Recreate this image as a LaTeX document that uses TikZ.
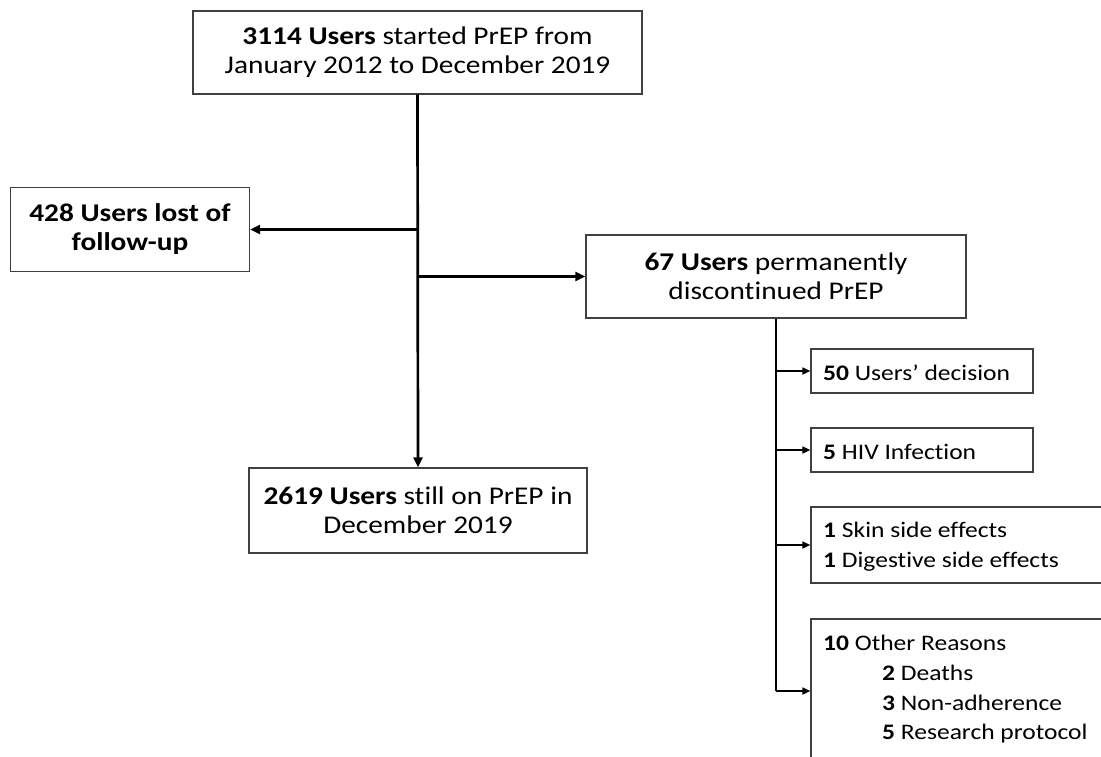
\documentclass[tikz,border=0pt]{standalone}
\usepackage{fontspec}
\setmainfont{Carlito}[FakeStretch=1.15, Ligatures=NoCommon]
\usetikzlibrary{arrows.meta}
\definecolor{boxline}{HTML}{404040}
\tikzset{
  box/.style={draw=boxline, line width=1.2pt, inner sep=0pt},
  mainfont/.style={font=\fontsize{25.5}{29}\selectfont, align=center},
  boldfont/.style={font=\fontsize{25.5}{29}\selectfont\bfseries, align=center},
  subfont/.style={font=\fontsize{22.2}{30}\selectfont, anchor=base west, inner sep=0pt},
  mainline/.style={line width=2.7pt, -{Triangle[length=10pt,width=9pt]}},
  subtrunk/.style={line width=1.6pt},
  subline/.style={line width=1.6pt, -{Triangle[length=8pt,width=7pt]}},
}
\begin{document}
\begin{tikzpicture}[x=1pt,y=-1pt]
\useasboundingbox (0,0) rectangle (1101,756);
\fill[white] (0,0) rectangle (1101,756);
\clip (0,0) rectangle (1101,756);

% main boxes
\node[box, mainfont, minimum width=449pt, minimum height=83pt] (top) at (417.5,52.5)
  {\textbf{3114 Users} started PrEP from\\January 2012 to December 2019};
\node[box, boldfont, minimum width=239pt, minimum height=84pt] (lost) at (130,229.5)
  {428 Users lost of\\follow-up};
\node[box, mainfont, minimum width=380pt, minimum height=83pt] (disc) at (776,276.5)
  {\textbf{67 Users} permanently\\discontinued PrEP};
\node[box, mainfont, minimum width=338pt, minimum height=85pt] (still) at (418,510.5)
  {\textbf{2619 Users} still on PrEP in\\December 2019};

% sub boxes
\node[box, minimum width=222pt, minimum height=44pt] (dec) at (922,371) {};
\node[box, minimum width=222pt, minimum height=44pt] (hiv) at (922,450) {};
\node[box, minimum width=320pt, minimum height=76pt] (side) at (971,545) {};
\node[box, minimum width=320pt, minimum height=144pt] (other) at (971,691) {};

% sub box texts
\node[subfont] (dect) at (823,380) {\textbf{50} Users’ decision};
\node[subfont] (hivt) at (823,459) {\textbf{5} HIV Infection};
\node[subfont] (skint) at (823,537) {\textbf{1} Skin side effects};
\node[subfont] (digt) at (823,567) {\textbf{1} Digestive side effects};
\node[subfont] (othert) at (823,650) {\textbf{10} Other Reasons};
\node[subfont] (deatht) at (882,680) {\textbf{2} Deaths};
\node[subfont] (nonadt) at (882,710) {\textbf{3} Non-adherence};
\node[subfont] (resprt) at (882,739) {\textbf{5} Research protocol};

% main connectors
\coordinate (jl) at (top.south |- lost.east);
\coordinate (jr) at (top.south |- disc.west);
\draw[mainline] (top.south) -- (still.north);
\draw[mainline] (jl) -- (lost.east);
\draw[mainline] (jr) -- (disc.west);

% sub connectors
\coordinate (send) at (disc.south |- other.west);
\draw[subtrunk] (disc.south) -- (send);
\draw[subline] (disc.south |- dec.west) -- (dec.west);
\draw[subline] (disc.south |- hiv.west) -- (hiv.west);
\draw[subline] (disc.south |- side.west) -- (side.west);
\draw[subline] (send) -- (other.west);
\end{tikzpicture}
\end{document}
